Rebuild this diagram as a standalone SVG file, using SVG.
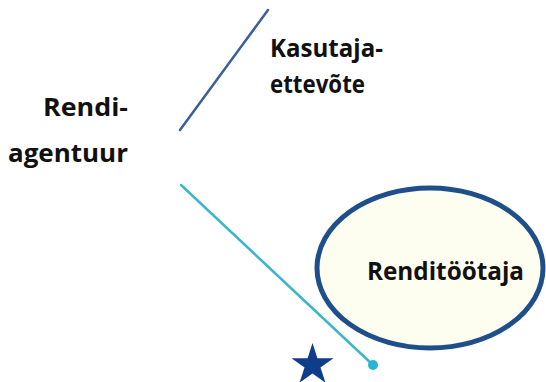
<svg xmlns="http://www.w3.org/2000/svg" width="546" height="382" viewBox="0 0 546 382">
<style>
.lbl{font-family:"Open Sans","Liberation Sans",Arial,sans-serif;font-weight:bold;font-size:25px;fill:#111}
</style>
<rect width="546" height="382" fill="#ffffff"/>
<g id="connectors">
<line x1="268" y1="10" x2="180" y2="130" stroke="#3d5f96" stroke-width="2.5" stroke-linecap="round"/>
<line x1="181" y1="185" x2="373" y2="365" stroke="#3db5c9" stroke-width="2.5" stroke-linecap="round"/>
<circle cx="373" cy="365" r="5" fill="#2bb3d2"/>
</g>
<g id="kasutaja">
<text class="lbl" x="270" y="57" textLength="113" lengthAdjust="spacingAndGlyphs">Kasutaja-</text>
<text class="lbl" x="270" y="93" textLength="95" lengthAdjust="spacingAndGlyphs">ettevõte</text>
</g>
<g id="agentuur">
<text class="lbl" x="43" y="116" textLength="85" lengthAdjust="spacingAndGlyphs">Rendi-</text>
<text class="lbl" x="8" y="162" textLength="120" lengthAdjust="spacingAndGlyphs">agentuur</text>
</g>
<g id="renditootaja">
<ellipse cx="430" cy="268" rx="113" ry="80" fill="#fdfdf0" stroke="#1f4f8a" stroke-width="5"/>
<text class="lbl" x="367" y="280" textLength="157" lengthAdjust="spacingAndGlyphs">Renditöötaja</text>
</g>
<g id="star">
<polygon fill="#0f3d8c" points="312.5,343 317.4,358.2 333.5,358.2 320.5,367.6 325.5,382.8 312.5,373.4 299.5,382.8 304.5,367.6 291.5,358.2 307.6,358.2"/>
</g>
</svg>
